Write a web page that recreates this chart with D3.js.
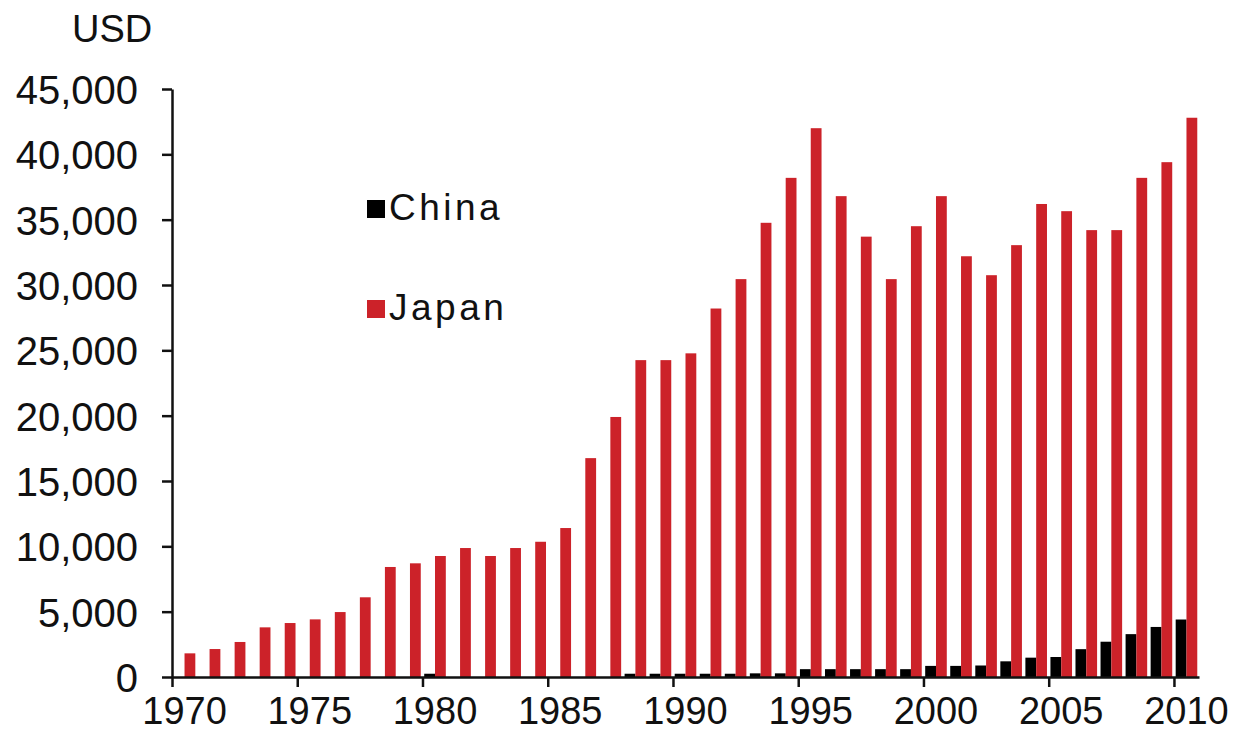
<!DOCTYPE html>
<html lang="en">

<head>
    <meta charset="UTF-8">
    <title>China vs Japan GDP per capita</title>
    <style>
        body {
            margin: 0;
            background: #fff;
        }

        svg text {
            font-family: "Liberation Sans", Arial, sans-serif;
            fill: #111;
        }

        .axis path,
        .axis line {
            stroke: #111;
            stroke-width: 2.5px;
        }
    </style>
    <script src="https://d3js.org/d3.v7.min.js"></script>
</head>

<body>
    <div id="chart"></div>

    <script>
        const YEARS = [
            1970, 1971, 1972, 1973, 1974, 1975, 1976, 1977, 1978, 1979,
            1980, 1981, 1982, 1983, 1984, 1985, 1986, 1987, 1988, 1989,
            1990, 1991, 1992, 1993, 1994, 1995, 1996, 1997, 1998, 1999,
            2000, 2001, 2002, 2003, 2004, 2005, 2006, 2007, 2008, 2009, 2010
        ];

        const CHINA = [
            0, 0, 0, 0, 0, 0, 0, 0, 0, 0,
            250, 0, 0, 0, 0, 0, 0, 0, 250, 250,
            250, 250, 250, 280, 280, 600, 600, 600, 600, 600,
            850, 850, 880, 1200, 1480, 1530, 2130, 2700, 3280, 3830, 4400
        ];

        const JAPAN = [
            1810, 2140, 2680, 3800, 4130, 4410, 4970, 6100, 8420, 8700,
            9260, 9870, 9260, 9870, 10350, 11400, 16750, 19900, 24250, 24250,
            24770, 28200, 30450, 34760, 38200, 42000, 36800, 33700, 30450, 34500,
            36800, 32200, 30750, 33050, 36200, 35650, 34200, 34200, 38200, 39400, 42800
        ];

        const SERIES = ["China", "Japan"];
        const COLORS = { China: "#000000", Japan: "#cc2229" };
        const Y_TICKS = [0, 5000, 10000, 15000, 20000, 25000, 30000, 35000, 40000, 45000];
        const X_LABEL_YEARS = [1970, 1975, 1980, 1985, 1990, 1995, 2000, 2005, 2010];

        // plot area in pixels
        var width = 1249, height = 733;
        var plot = { left: 172, right: 1199, top: 89, bottom: 677 };

        const rows = YEARS.map((yr, i) => ({ year: yr, China: CHINA[i], Japan: JAPAN[i] }));

        // scales
        const x0 = d3.scaleBand()
            .domain(YEARS)
            .range([plot.left, plot.right])
            .padding(0);

        const x1 = d3.scaleBand()
            .domain(SERIES)
            .range([0, x0.bandwidth()])
            .paddingInner(0)
            .paddingOuter(0.16);

        const y = d3.scaleLinear()
            .domain([0, 45000])
            .range([plot.bottom, plot.top]);

        const svg = d3.select("#chart")
            .append("svg")
            .attr("width", width)
            .attr("height", height);

        // bars
        svg.append("g")
            .selectAll("g")
            .data(rows)
            .join("g")
            .attr("transform", d => "translate(" + x0(d.year) + ",0)")
            .selectAll("rect")
            .data(d => SERIES.map(s => ({ key: s, value: d[s] })))
            .join("rect")
            .attr("x", d => x1(d.key))
            .attr("width", x1.bandwidth())
            .attr("y", d => y(d.value))
            .attr("height", d => plot.bottom - y(d.value))
            .attr("fill", d => COLORS[d.key]);

        // y axis
        const yAxis = svg.append("g")
            .attr("class", "axis")
            .attr("transform", "translate(" + plot.left + ",0)")
            .call(d3.axisLeft(y)
                .tickValues(Y_TICKS)
                .tickSize(10)
                .tickPadding(24)
                .tickSizeOuter(0)
                .tickFormat(d3.format(",")));
        yAxis.selectAll("text")
            .style("font-size", "40px")
            .attr("dy", "0.36em");

        // x axis: tick marks at category edges every 5 years
        const xEdge = d3.scaleLinear()
            .domain([1970, 2011])
            .range([plot.left, plot.right]);

        svg.append("g")
            .attr("class", "axis")
            .attr("transform", "translate(0," + plot.bottom + ")")
            .call(d3.axisBottom(xEdge)
                .tickValues(X_LABEL_YEARS)
                .tickSize(10)
                .tickSizeOuter(0)
                .tickFormat(""));

        // x labels centred on the category
        svg.append("g")
            .selectAll("text")
            .data(X_LABEL_YEARS)
            .join("text")
            .attr("x", d => x0(d) + x0.bandwidth() / 2)
            .attr("y", 724)
            .attr("text-anchor", "middle")
            .style("font-size", "38px")
            .text(d => d);

        // unit label
        svg.append("text")
            .attr("x", 72)
            .attr("y", 42)
            .style("font-size", "38px")
            .text("USD");

        // legend
        const legend = svg.append("g")
            .selectAll("g")
            .data(SERIES)
            .join("g")
            .attr("transform", (d, i) => "translate(367," + (200 + i * 100) + ")");

        legend.append("rect")
            .attr("width", 18)
            .attr("height", 18)
            .attr("fill", d => COLORS[d]);

        legend.append("text")
            .attr("x", 22)
            .attr("y", 20)
            .style("font-size", "37px")
            .style("letter-spacing", "3.5px")
            .text(d => d);
    </script>
</body>

</html>
